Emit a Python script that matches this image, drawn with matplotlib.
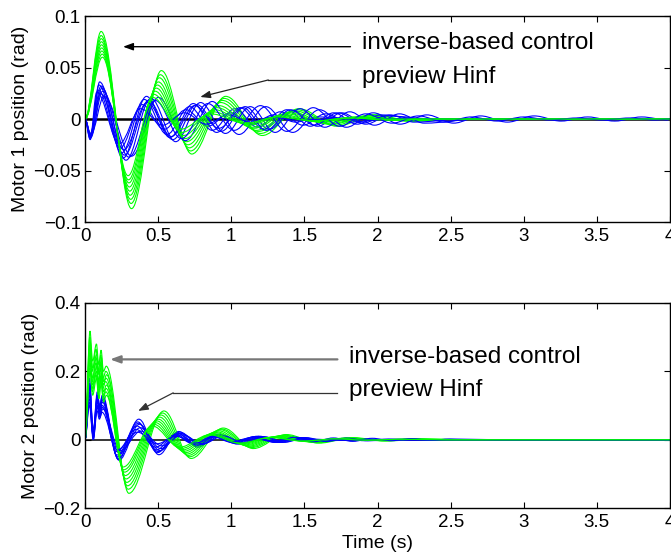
import numpy as np
import matplotlib
matplotlib.use('Agg')
import matplotlib.pyplot as plt
from matplotlib.path import Path
from matplotlib.patches import PathPatch

plt.rcParams['font.family'] = ['Liberation Sans', 'DejaVu Sans']

# Extrema of each simulated response (time in s, position in rad).
# Motor 1, green curves
m1_green_t = [
    [0, 0.110, 0.318, 0.522, 0.730, 0.962, 1.212, 1.462, 1.722, 1.982, 2.242, 2.55, 4.0],
    [0, 0.110, 0.315, 0.515, 0.722, 0.952, 1.200, 1.448, 1.706, 1.964, 2.222, 2.50, 4.0],
    [0, 0.111, 0.312, 0.508, 0.713, 0.940, 1.186, 1.430, 1.688, 1.944, 2.200, 2.48, 4.0],
    [0, 0.112, 0.309, 0.501, 0.704, 0.928, 1.170, 1.412, 1.666, 1.920, 2.174, 2.45, 4.0],
    [0, 0.113, 0.306, 0.494, 0.694, 0.915, 1.155, 1.393, 1.645, 1.895, 2.146, 2.40, 4.0],
    [0, 0.114, 0.303, 0.487, 0.684, 0.902, 1.140, 1.375, 1.624, 1.870, 2.118, 2.38, 4.0],
    [0, 0.115, 0.300, 0.479, 0.673, 0.888, 1.124, 1.356, 1.602, 1.846, 2.090, 2.35, 4.0],
    [0, 0.117, 0.297, 0.470, 0.662, 0.874, 1.108, 1.338, 1.580, 1.820, 2.062, 2.32, 4.0],
    [0, 0.119, 0.294, 0.462, 0.652, 0.860, 1.092, 1.320, 1.560, 1.796, 2.036, 2.30, 4.0],
]
m1_green_y = [
    [0, 0.085, -0.087, 0.047, -0.034, 0.022, -0.016, 0.010, -0.007, 0.004, -0.002, 0, 0],
    [0, 0.081, -0.082, 0.043, -0.031, 0.020, -0.014, 0.009, -0.006, 0.004, -0.002, 0, 0],
    [0, 0.078, -0.078, 0.040, -0.028, 0.018, -0.012, 0.008, -0.005, 0.003, -0.002, 0, 0],
    [0, 0.075, -0.074, 0.036, -0.025, 0.016, -0.011, 0.007, -0.005, 0.003, -0.001, 0, 0],
    [0, 0.072, -0.070, 0.033, -0.022, 0.013, -0.009, 0.006, -0.004, 0.002, -0.001, 0, 0],
    [0, 0.069, -0.066, 0.030, -0.019, 0.011, -0.008, 0.005, -0.003, 0.002, -0.001, 0, 0],
    [0, 0.066, -0.062, 0.027, -0.016, 0.009, -0.006, 0.004, -0.003, 0.002, -0.001, 0, 0],
    [0, 0.063, -0.059, 0.024, -0.013, 0.007, -0.005, 0.003, -0.002, 0.001, -0.001, 0, 0],
    [0, 0.060, -0.055, 0.021, -0.010, 0.005, -0.004, 0.002, -0.002, 0.001, 0.000, 0, 0],
]

# Motor 1, blue curves
m1_blue_t = [
    [0, 0.035, 0.090, 0.240, 0.390, 0.540, 0.690, 0.840, 0.990, 1.140, 1.290, 1.440, 1.590, 1.900, 4.0],
    [0, 0.035, 0.095, 0.250, 0.405, 0.560, 0.715, 0.870, 1.025, 1.180, 1.335, 1.490, 1.645, 1.800, 2.100, 4.0],
    [0, 0.040, 0.100, 0.260, 0.420, 0.580, 0.740, 0.900, 1.060, 1.220, 1.380, 1.540, 1.700, 1.860, 2.020, 2.300, 4.0],
    [0, 0.035, 0.105, 0.270, 0.435, 0.600, 0.765, 0.930, 1.095, 1.260, 1.425, 1.590, 1.755, 1.920, 2.085, 2.250, 2.600, 4.0],
    [0, 0.040, 0.115, 0.280, 0.450, 0.620, 0.790, 0.960, 1.130, 1.300, 1.470, 1.640, 1.810, 1.980, 2.150, 2.320, 2.700, 4.0],
    [0, 0.040, 0.130, 0.319, 0.502, 0.686, 0.869, 1.053, 1.236, 1.420, 1.603, 1.787, 1.970, 2.154, 2.337,
     2.521, 2.704, 2.888, 3.071, 3.255, 3.438, 3.622, 3.805, 3.989],
    [0, 0.035, 0.080, 0.235, 0.380, 0.530, 0.680, 0.830, 0.980, 1.130, 1.280, 1.430, 1.700, 4.0],
    [0, 0.035, 0.110, 0.265, 0.425, 0.590, 0.750, 0.915, 1.080, 1.240, 1.405, 1.570, 1.730, 1.895, 2.060, 2.400, 4.0],
    [0, 0.040, 0.120, 0.300, 0.480, 0.660, 0.840, 1.020, 1.200, 1.380, 1.560, 1.740, 1.920, 2.100, 2.280,
     2.460, 2.640, 2.820, 3.000, 3.180, 3.360, 3.540, 3.720, 3.900, 4.0],
]
m1_blue_y = [
    [0, -0.018, 0.028, -0.028, 0.014, -0.010, 0.009, -0.007, 0.006, -0.005, 0.004, -0.003, 0.002, 0, 0],
    [0, -0.020, 0.033, -0.033, 0.019, -0.015, 0.012, -0.011, 0.010, -0.008, 0.007, -0.006, 0.005, -0.003, 0, 0],
    [0, -0.017, 0.036, -0.038, 0.022, -0.018, 0.015, -0.013, 0.011, -0.010, 0.009, -0.007, 0.006, -0.005, 0.004, 0, 0],
    [0, -0.016, 0.025, -0.035, 0.018, -0.020, 0.014, -0.012, 0.012, -0.010, 0.008, -0.007, 0.006, -0.005, 0.004, -0.003, 0, 0],
    [0, -0.018, 0.030, -0.040, 0.020, -0.022, 0.016, -0.014, 0.012, -0.013, 0.010, -0.008, 0.007, -0.006, 0.005, -0.004, 0, 0],
    [0, -0.015, 0.022, -0.036, 0.021, -0.021, 0.017, -0.015, 0.012, -0.013, 0.009, -0.008, 0.006, -0.005, 0.004,
     -0.004, 0.003, -0.003, 0.003, -0.002, 0.002, -0.002, 0.002, -0.001],
    [0, -0.019, 0.026, -0.024, 0.010, -0.006, 0.006, -0.005, 0.004, -0.003, 0.002, -0.001, 0, 0],
    [0, -0.014, 0.032, -0.030, 0.016, -0.017, 0.013, -0.009, 0.011, -0.011, 0.009, -0.006, 0.006, -0.004, 0.003, 0, 0],
    [0, -0.016, 0.027, -0.037, 0.018, -0.019, 0.015, -0.011, 0.013, -0.012, 0.011, -0.007, 0.005, -0.004, 0.003,
     -0.003, 0.002, -0.002, 0.002, -0.001, 0.001, -0.001, 0.001, -0.001, 0],
]

# Motor 2, green curves
m2_green_t = [
    [0, 0.034, 0.052, 0.078, 0.094, 0.110, 0.126, 0.145, 0.300, 0.540, 0.725, 0.945, 1.150, 1.375, 1.600, 1.830, 2.060, 2.300, 2.600, 4.0],
    [0, 0.033, 0.050, 0.075, 0.092, 0.108, 0.124, 0.142, 0.295, 0.530, 0.715, 0.935, 1.140, 1.362, 1.588, 1.815, 2.045, 2.280, 2.580, 4.0],
    [0, 0.035, 0.053, 0.080, 0.096, 0.112, 0.128, 0.147, 0.290, 0.520, 0.705, 0.925, 1.128, 1.350, 1.575, 1.800, 2.030, 2.260, 2.560, 4.0],
    [0, 0.034, 0.051, 0.077, 0.093, 0.109, 0.125, 0.143, 0.285, 0.510, 0.695, 0.912, 1.116, 1.336, 1.560, 1.784, 2.012, 2.240, 2.540, 4.0],
    [0, 0.033, 0.050, 0.076, 0.092, 0.107, 0.122, 0.140, 0.280, 0.500, 0.685, 0.900, 1.104, 1.322, 1.545, 1.768, 1.995, 2.220, 2.520, 4.0],
    [0, 0.035, 0.052, 0.079, 0.095, 0.111, 0.127, 0.146, 0.275, 0.490, 0.675, 0.888, 1.092, 1.308, 1.530, 1.752, 1.978, 2.200, 2.500, 4.0],
    [0, 0.034, 0.051, 0.078, 0.094, 0.110, 0.126, 0.144, 0.270, 0.480, 0.665, 0.876, 1.080, 1.294, 1.515, 1.736, 1.960, 2.180, 2.480, 4.0],
    [0, 0.033, 0.050, 0.076, 0.092, 0.108, 0.124, 0.142, 0.265, 0.470, 0.655, 0.864, 1.068, 1.280, 1.500, 1.720, 1.942, 2.160, 2.460, 4.0],
    [0, 0.035, 0.052, 0.079, 0.095, 0.111, 0.127, 0.146, 0.260, 0.460, 0.645, 0.852, 1.056, 1.266, 1.485, 1.704, 1.925, 2.140, 2.440, 4.0],
]
m2_green_y = [
    [0, 0.318, 0.230, 0.280, 0.220, 0.262, 0.200, 0.215, -0.157, 0.084, -0.055, 0.034, -0.026, 0.015, -0.010, 0.006, -0.004, 0.002, 0, 0],
    [0, 0.300, 0.200, 0.265, 0.200, 0.248, 0.180, 0.200, -0.145, 0.078, -0.050, 0.031, -0.023, 0.013, -0.009, 0.005, -0.003, 0.002, 0, 0],
    [0, 0.285, 0.210, 0.250, 0.190, 0.240, 0.170, 0.190, -0.135, 0.072, -0.046, 0.029, -0.021, 0.012, -0.008, 0.005, -0.003, 0.001, 0, 0],
    [0, 0.270, 0.180, 0.240, 0.170, 0.225, 0.160, 0.180, -0.125, 0.066, -0.042, 0.026, -0.019, 0.011, -0.007, 0.004, -0.002, 0.001, 0, 0],
    [0, 0.255, 0.170, 0.225, 0.160, 0.210, 0.150, 0.170, -0.115, 0.060, -0.038, 0.023, -0.017, 0.010, -0.006, 0.004, -0.002, 0.001, 0, 0],
    [0, 0.240, 0.160, 0.215, 0.150, 0.195, 0.140, 0.160, -0.105, 0.055, -0.034, 0.021, -0.015, 0.009, -0.006, 0.003, -0.002, 0.001, 0, 0],
    [0, 0.225, 0.150, 0.200, 0.140, 0.185, 0.130, 0.150, -0.095, 0.050, -0.030, 0.018, -0.013, 0.008, -0.005, 0.003, -0.002, 0.001, 0, 0],
    [0, 0.210, 0.140, 0.190, 0.130, 0.175, 0.120, 0.140, -0.088, 0.045, -0.026, 0.016, -0.011, 0.007, -0.004, 0.002, -0.001, 0.001, 0, 0],
    [0, 0.200, 0.130, 0.180, 0.120, 0.165, 0.110, 0.130, -0.080, 0.040, -0.022, 0.014, -0.010, 0.006, -0.004, 0.002, -0.001, 0.001, 0, 0],
]

# Motor 2, blue curves
m2_blue_t = [
    [0, 0.030, 0.056, 0.084, 0.100, 0.118, 0.228, 0.368, 0.505, 0.640, 0.772, 0.908, 1.040, 1.176, 1.310, 1.446, 1.580, 1.900, 4.0],
    [0, 0.031, 0.057, 0.086, 0.102, 0.120, 0.222, 0.360, 0.495, 0.628, 0.760, 0.894, 1.025, 1.158, 1.290, 1.424, 1.555, 1.870, 4.0],
    [0, 0.029, 0.055, 0.082, 0.098, 0.116, 0.232, 0.372, 0.512, 0.650, 0.785, 0.922, 1.058, 1.195, 1.330, 1.468, 1.604, 1.740, 2.100, 4.0],
    [0, 0.030, 0.056, 0.085, 0.101, 0.119, 0.218, 0.355, 0.488, 0.620, 0.750, 0.882, 1.012, 1.144, 1.274, 1.406, 1.700, 4.0],
    [0, 0.031, 0.057, 0.083, 0.099, 0.117, 0.236, 0.378, 0.518, 0.658, 0.796, 0.936, 1.074, 1.214, 1.352, 1.492, 1.630, 1.770, 1.908, 2.200, 4.0],
    [0, 0.029, 0.055, 0.084, 0.100, 0.118, 0.215, 0.350, 0.482, 0.612, 0.740, 0.870, 0.998, 1.128, 1.256, 1.550, 4.0],
    [0, 0.030, 0.056, 0.086, 0.102, 0.120, 0.240, 0.382, 0.525, 0.665, 0.806, 0.946, 1.088, 1.228, 1.370, 1.510, 1.652, 1.792, 1.934, 2.074, 2.400, 4.0],
    [0, 0.031, 0.057, 0.083, 0.099, 0.117, 0.226, 0.364, 0.500, 0.634, 0.766, 0.900, 1.032, 1.166, 1.298, 1.432, 1.564, 1.698, 1.830,
     1.964, 2.096, 2.230, 2.362, 2.496, 2.800, 4.0],
    [0, 0.030, 0.056, 0.082, 0.098, 0.116, 0.220, 0.358, 0.492, 0.624, 0.755, 0.888, 1.018, 1.150, 1.282, 1.600, 4.0],
]
m2_blue_y = [
    [0, 0.180, 0.010, 0.140, 0.100, 0.130, -0.058, 0.060, -0.044, 0.024, -0.022, 0.016, -0.013, 0.010, -0.008, 0.006, -0.004, 0, 0],
    [0, 0.165, 0.000, 0.130, 0.090, 0.120, -0.050, 0.052, -0.038, 0.020, -0.019, 0.014, -0.011, 0.009, -0.007, 0.005, -0.003, 0, 0],
    [0, 0.150, 0.020, 0.125, 0.085, 0.115, -0.060, 0.045, -0.032, 0.022, -0.017, 0.015, -0.012, 0.010, -0.008, 0.006, -0.005, 0.003, 0, 0],
    [0, 0.140, 0.005, 0.115, 0.080, 0.110, -0.045, 0.040, -0.030, 0.016, -0.015, 0.011, -0.009, 0.007, -0.005, 0.004, 0, 0],
    [0, 0.130, 0.030, 0.110, 0.075, 0.100, -0.040, 0.035, -0.026, 0.018, -0.014, 0.013, -0.011, 0.009, -0.008, 0.006, -0.005, 0.004, -0.003, 0, 0],
    [0, 0.120, 0.015, 0.100, 0.070, 0.095, -0.035, 0.030, -0.022, 0.013, -0.012, 0.009, -0.007, 0.005, -0.003, 0, 0],
    [0, 0.110, 0.000, 0.095, 0.065, 0.090, -0.032, 0.025, -0.018, 0.014, -0.012, 0.011, -0.010, 0.008, -0.007, 0.006, -0.005, 0.004, -0.003, 0.002, 0, 0],
    [0, 0.160, 0.025, 0.120, 0.095, 0.125, -0.055, 0.048, -0.035, 0.018, -0.016, 0.012, -0.010, 0.009, -0.008, 0.007, -0.006, 0.005, -0.005,
     0.004, -0.003, 0.003, -0.002, 0.002, 0, 0],
    [0, 0.100, 0.010, 0.085, 0.060, 0.080, -0.030, 0.022, -0.012, 0.010, -0.010, 0.008, -0.006, 0.005, -0.003, 0, 0],
]

x_ticks = [0, 0.5, 1, 1.5, 2, 2.5, 3, 3.5, 4]
x_tick_labels = ['0', '0.5', '1', '1.5', '2', '2.5', '3', '3.5', '4']
m1_y_ticks = [-0.1, -0.05, 0, 0.05, 0.1]
m1_y_tick_labels = ['\u22120.1', '\u22120.05', '0', '0.05', '0.1']
m2_y_ticks = [-0.2, 0, 0.2, 0.4]
m2_y_tick_labels = ['\u22120.2', '0', '0.2', '0.4']

GREEN = '#00ff00'
BLUE = '#0000ff'


def extrema_path(ts, ys):
    # smooth half-waves between consecutive extrema (horizontal tangent at each one)
    verts = [(ts[0], ys[0])]
    codes = [Path.MOVETO]
    for i in range(len(ts) - 1):
        d = (ts[i + 1] - ts[i]) * 0.36
        verts += [(ts[i] + d, ys[i]), (ts[i + 1] - d, ys[i + 1]), (ts[i + 1], ys[i + 1])]
        codes += [Path.CURVE4] * 3
    return Path(verts, codes)


def draw_panel(ax, green_t, green_y, blue_t, blue_y, zero_lw):
    ax.axhline(0, color='k', lw=zero_lw, zorder=1)
    for i in range(max(len(green_t), len(blue_t))):
        if i < len(blue_t):
            ax.add_patch(PathPatch(extrema_path(blue_t[i], blue_y[i]), fill=False,
                                   edgecolor=BLUE, lw=0.8, zorder=2))
        if i < len(green_t):
            ax.add_patch(PathPatch(extrema_path(green_t[i], green_y[i]), fill=False,
                                   edgecolor=GREEN, lw=0.8, zorder=2))


def style_axes(ax, yticks, ylabels, ylim):
    ax.set_xlim(0, 4)
    ax.set_ylim(*ylim)
    ax.set_xticks(x_ticks)
    ax.set_xticklabels(x_tick_labels)
    ax.set_yticks(yticks)
    ax.set_yticklabels(ylabels)
    ax.tick_params(direction='in', length=4, width=0.8, top=True, right=True,
                   labelsize=13.5, pad=4)
    ax.tick_params(axis='y', pad=3)
    for s in ax.spines.values():
        s.set_linewidth(1.0)


def label_arrows(ax, text1, tail1, head1, text2, start2, bend2, head2, col1, lw1, col2, lw2):
    ax.annotate('', xy=head1, xytext=tail1,
                arrowprops=dict(arrowstyle='-|>,head_length=0.6,head_width=0.22',
                                color=col1, lw=lw1, shrinkA=0, shrinkB=0), zorder=5)
    ax.plot([start2[0], bend2[0]], [start2[1], bend2[1]], color=col2, lw=lw2, zorder=5)
    ax.annotate('', xy=head2, xytext=bend2,
                arrowprops=dict(arrowstyle='-|>,head_length=0.6,head_width=0.22',
                                color=col2, lw=lw2, shrinkA=0, shrinkB=0), zorder=5)
    ax.text(text1[0], text1[1], 'inverse-based control', fontsize=17.5, ha='left', va='center', zorder=6)
    ax.text(text2[0], text2[1], 'preview Hinf', fontsize=17.5, ha='left', va='center', zorder=6)


fig = plt.figure(figsize=(6.71, 5.52), dpi=100)
ax1 = fig.add_axes([0.1267, 0.5978, 0.8718, 0.3732])
ax2 = fig.add_axes([0.1267, 0.0797, 0.8718, 0.3714])

draw_panel(ax1, m1_green_t, m1_green_y, m1_blue_t, m1_blue_y, 1.8)
style_axes(ax1, m1_y_ticks, m1_y_tick_labels, (-0.1, 0.1))
ax1.set_ylabel('Motor 1 position (rad)', fontsize=14, labelpad=3)
label_arrows(ax1, (1.897, 0.0738), (1.815, 0.0702), (0.26, 0.0702),
             (1.897, 0.0408), (1.815, 0.0379), (1.253, 0.0379), (0.788, 0.0214),
             'k', 1.0, '#222222', 0.9)

draw_panel(ax2, m2_green_t, m2_green_y, m2_blue_t, m2_blue_y, 1.1)
style_axes(ax2, m2_y_ticks, m2_y_tick_labels, (-0.2, 0.4))
ax2.set_ylabel('Motor 2 position (rad)', fontsize=14, labelpad=3)
ax2.set_xlabel('Time (s)', fontsize=14, labelpad=3)
label_arrows(ax2, (1.808, 0.242), (1.726, 0.235), (0.171, 0.235),
             (1.808, 0.145), (1.726, 0.137), (0.603, 0.137), (0.363, 0.084),
             '#777777', 1.6, '#333333', 0.9)

fig.savefig('out.png', dpi=100)
